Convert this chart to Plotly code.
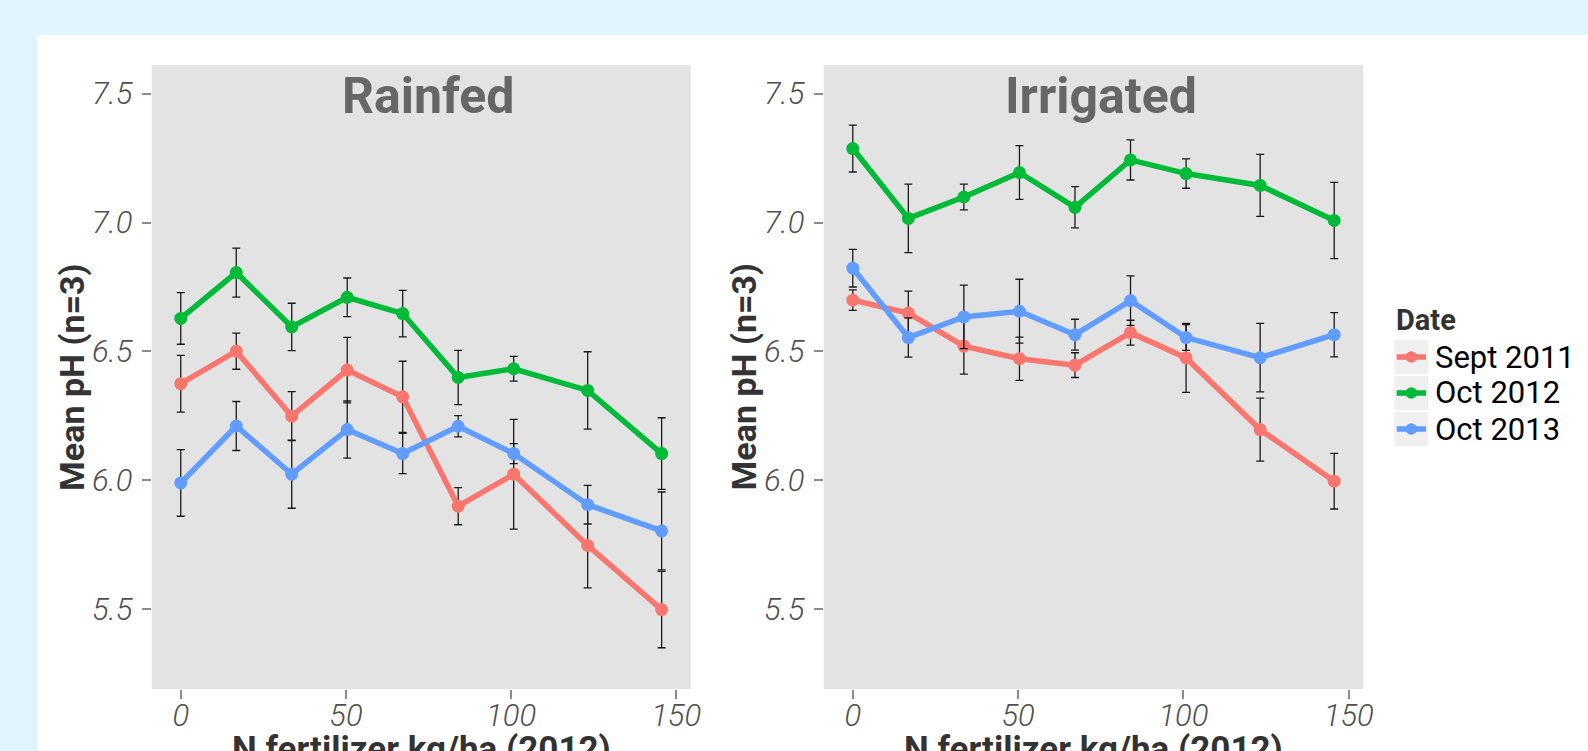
import plotly.graph_objects as go

W, H = 1588, 751

# ---------------- data ----------------
n_rates = [0, 16.8, 33.6, 50.4, 67.2, 84, 100.8, 123.2, 145.6]
dates = ["Sept 2011", "Oct 2012", "Oct 2013"]
colors = ["#F8766D", "#00BA38", "#619CFF"]

rain_sept2011 = [6.375, 6.501, 6.249, 6.428, 6.324, 5.900, 6.024, 5.748, 5.499]
rain_sept2011_se = [0.110, 0.070, 0.095, 0.127, 0.138, 0.072, 0.213, 0.165, 0.148]
rain_oct2012 = [6.628, 6.806, 6.595, 6.710, 6.647, 6.399, 6.433, 6.349, 6.104]
rain_oct2012_se = [0.100, 0.095, 0.092, 0.075, 0.090, 0.105, 0.048, 0.150, 0.139]
rain_oct2013 = [5.990, 6.211, 6.024, 6.197, 6.104, 6.210, 6.104, 5.906, 5.804]
rain_oct2013_se = [0.129, 0.095, 0.132, 0.111, 0.078, 0.041, 0.039, 0.075, 0.151]

irr_sept2011 = [6.699, 6.649, 6.521, 6.472, 6.447, 6.573, 6.475, 6.197, 5.997]
irr_sept2011_se = [0.040, 0.085, 0.109, 0.084, 0.048, 0.048, 0.134, 0.122, 0.108]
irr_oct2012 = [7.287, 7.016, 7.099, 7.194, 7.059, 7.243, 7.190, 7.144, 7.008]
irr_oct2012_se = [0.091, 0.133, 0.050, 0.104, 0.080, 0.078, 0.057, 0.120, 0.148]
irr_oct2013 = [6.823, 6.554, 6.634, 6.656, 6.565, 6.697, 6.554, 6.476, 6.565]
irr_oct2013_se = [0.073, 0.076, 0.123, 0.124, 0.060, 0.096, 0.050, 0.133, 0.086]

x_ticks = [0, 50, 100, 150]
y_ticks = [5.5, 6.0, 6.5, 7.0, 7.5]
panel_titles = ["Rainfed", "Irrigated"]
x_title = "N fertilizer kg/ha (2012)"
y_title = "Mean pH (n=3)"
legend_title = "Date"

# ---------------- helpers ----------------
def px_x(p):
    return p / W

def px_y(p):
    return 1 - p / H

panels = [
    (rain_sept2011, rain_sept2011_se, rain_oct2012, rain_oct2012_se, rain_oct2013, rain_oct2013_se),
    (irr_sept2011, irr_sept2011_se, irr_oct2012, irr_oct2012_se, irr_oct2013, irr_oct2013_se),
]

LINE_W = 5.5
MARK_SZ = 13

fig = go.Figure()

for pi, pdata in enumerate(panels):
    xa = "x" if pi == 0 else "x2"
    ya = "y" if pi == 0 else "y2"
    for si in range(3):
        vals = pdata[2 * si]
        se = pdata[2 * si + 1]
        fig.add_trace(go.Scatter(
            x=n_rates, y=vals, xaxis=xa, yaxis=ya,
            mode="lines+markers",
            name=dates[si], legendgroup=dates[si], showlegend=False,
            line=dict(color=colors[si], width=LINE_W),
            marker=dict(color=colors[si], size=MARK_SZ),
            error_y=dict(type="data", array=se, visible=True,
                         color="#1a1a1a", thickness=1.3, width=4),
        ))

# plot area pixel positions
rain_l, rain_r = 151.7, 690.7
irr_l, irr_r = 823.7, 1363.3
top_px, bot_px = 65, 689

xrange_ = [-8.8, 154.4]
yrange_ = [5.191, 7.611]

tickfont = dict(family="Roboto", size=31, color="#505050", style="italic", weight=300)

axis_common_x = dict(range=xrange_, tickvals=x_ticks, showgrid=False, zeroline=False,
                     showline=False, ticks="outside", ticklen=9, tickwidth=2,
                     tickcolor="#8c8c8c", tickfont=tickfont, automargin=False,
                     ticklabelstandoff=-10)
axis_common_y = dict(range=yrange_, tickvals=y_ticks, tickformat=".1f", showgrid=False,
                     zeroline=False, showline=False, ticks="outside", ticklen=9,
                     tickwidth=2, tickcolor="#8c8c8c", tickfont=tickfont,
                     automargin=False, ticklabelstandoff=3)

shapes = [
    # white panel
    dict(type="rect", xref="paper", yref="paper", x0=px_x(37), x1=1.01,
         y0=-0.05, y1=px_y(35), fillcolor="white", line=dict(width=0), layer="below"),
    # grey panel backgrounds
    dict(type="rect", xref="paper", yref="paper", x0=px_x(rain_l), x1=px_x(rain_r),
         y0=px_y(bot_px), y1=px_y(top_px), fillcolor="#e3e3e3", line=dict(width=0), layer="below"),
    dict(type="rect", xref="paper", yref="paper", x0=px_x(irr_l), x1=px_x(irr_r),
         y0=px_y(bot_px), y1=px_y(top_px), fillcolor="#e3e3e3", line=dict(width=0), layer="below"),
]

annotations = []

# ---------------- legend (drawn as key boxes + text) ----------------
leg_box_l, leg_box_r = 1394.3, 1428.3
leg_top0, leg_pitch, leg_box_h = 340, 36, 34
annotations.append(dict(text="<b>" + legend_title + "</b>", x=px_x(1393.5), y=px_y(320),
                        xref="paper", yref="paper", xanchor="left", yanchor="middle",
                        showarrow=False,
                        font=dict(family="Roboto", size=29, color="#333333")))
for k in range(3):
    t = leg_top0 + leg_pitch * k
    cy = t + leg_box_h / 2
    shapes.append(dict(type="rect", xref="paper", yref="paper", x0=px_x(leg_box_l), x1=px_x(leg_box_r),
                       y0=px_y(t + leg_box_h), y1=px_y(t), fillcolor="#f0f0f0",
                       line=dict(width=0), layer="below"))
    shapes.append(dict(type="line", xref="paper", yref="paper", x0=px_x(1396.7), x1=px_x(1426),
                       y0=px_y(cy), y1=px_y(cy), line=dict(color=colors[k], width=LINE_W)))
    r = 5.8
    shapes.append(dict(type="circle", xref="paper", yref="paper",
                       x0=px_x(1411.3 - r), x1=px_x(1411.3 + r),
                       y0=px_y(cy + r), y1=px_y(cy - r),
                       fillcolor=colors[k], line=dict(width=0)))
    annotations.append(dict(text=dates[k], x=px_x(1433), y=px_y(cy), xref="paper", yref="paper",
                            xanchor="left", yanchor="middle", showarrow=False,
                            font=dict(family="Roboto", size=31, color="#000000")))

title_font = dict(family="Roboto", size=50, color="#666666", weight="bold")
for cx, txt in [(428.4, panel_titles[0]), (1101.4, panel_titles[1])]:
    annotations.append(dict(text=txt, x=px_x(cx), y=px_y(96), xref="paper", yref="paper",
                            xanchor="center", yanchor="middle", showarrow=False, font=title_font))
axt_font_x = dict(family="Roboto", size=35, color="#333333", weight="bold")
axt_font_y = dict(family="Roboto", size=34, color="#333333", weight="bold")
for cx in [(rain_l + rain_r) / 2, (irr_l + irr_r) / 2]:
    annotations.append(dict(text=x_title, x=px_x(cx), y=px_y(727), xref="paper", yref="paper",
                            xanchor="center", yanchor="top", showarrow=False, font=axt_font_x))
for cx in [71.9, 744.4]:
    annotations.append(dict(text=y_title, x=px_x(cx), y=px_y(377), xref="paper", yref="paper",
                            xanchor="center", yanchor="middle", showarrow=False,
                            textangle=-90, font=axt_font_y))

fig.update_layout(
    width=W, height=H,
    margin=dict(l=0, r=0, t=0, b=0),
    paper_bgcolor="#e0f4fe",
    plot_bgcolor="rgba(0,0,0,0)",
    xaxis=dict(domain=[px_x(rain_l), px_x(rain_r)], anchor="y", **axis_common_x),
    yaxis=dict(domain=[px_y(bot_px), px_y(top_px)], anchor="x", **axis_common_y),
    xaxis2=dict(domain=[px_x(irr_l), px_x(irr_r)], anchor="y2", **axis_common_x),
    yaxis2=dict(domain=[px_y(bot_px), px_y(top_px)], anchor="x2", **axis_common_y),
    shapes=shapes,
    annotations=annotations,
    showlegend=False,
)

fig.write_html("out.html")
